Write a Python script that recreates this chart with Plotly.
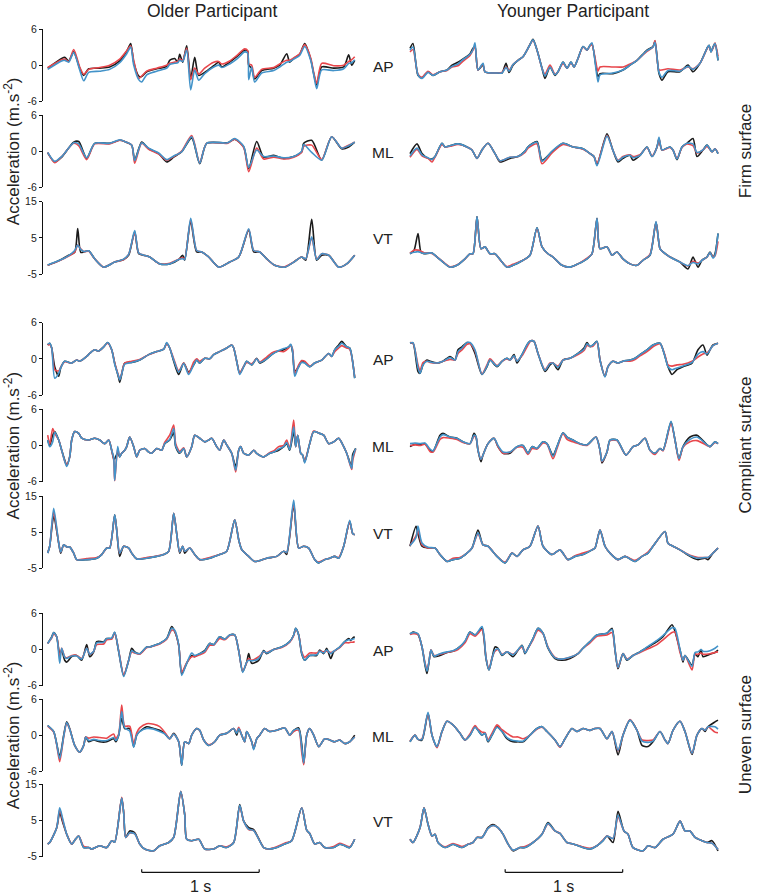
import plotly.graph_objects as go

# ---------------- data ----------------
# Time stamps are sample indices; SAMPLES_PER_SECOND converts them to seconds.
SAMPLES_PER_SECOND = 117.5

# ===== Older participant, Firm surface =====
OF_AP_T = [0,14,17,21,26,32,36,41,52,62,72,79,83,86,91,94,99,109,119,122,127,130,132,135,139,143,147,151,157,166,171,174,182,189,197,200,201,204,207,214,226,232,239,242,246,252,257,263,266,269,274,286,296,301,304,307]
OF_AP_K = [-0.5,1.1,1.3,0.7,2.2,-0.5,-1.7,-0.6,-0.5,-0.3,0.7,2.3,3.6,0.5,-1.8,-1.9,-1.1,-0.6,-0.2,0.8,1.1,0.5,1.8,0.5,3.2,-2.2,1.3,-1.7,-1.2,-0.1,0.5,-0.3,0.5,1.4,2.5,2.3,0.0,-0.5,-2.3,-0.9,-0.5,0.0,1.9,0.5,1.1,1.8,3.6,1.0,-1.4,-3.3,-0.3,-0.5,-0.3,1.7,0.0,0.8]
OF_AP_R = [-0.4,0.9,1.0,0.6,2.6,-0.3,-1.5,-0.7,-0.4,0.0,1.0,2.4,3.2,0.8,-2.2,-1.8,-1.0,-0.5,0.0,0.3,0.5,0.6,1.0,0.8,2.8,-2.4,-0.5,-1.5,-0.5,0.5,0.6,0.2,0.7,1.6,2.7,2.4,0.2,0.0,-2.0,-0.7,-0.4,0.2,0.8,0.8,1.2,1.9,3.4,1.2,-1.2,-3.0,0.3,-0.1,0.0,0.6,0.9,1.4]
OF_AP_B = [-0.7,0.7,0.8,0.5,2.1,-0.8,-2.6,-1.2,-1.0,-0.7,0.4,1.9,3.0,0.0,-2.4,-2.8,-1.6,-1.0,-0.5,0.1,0.3,0.4,0.8,0.6,2.5,-4.1,-0.8,-2.5,-1.4,-0.3,0.0,-0.4,0.2,1.0,2.2,2.0,-2.4,-0.3,-2.8,-1.3,-0.9,-0.3,0.5,0.6,1.0,1.6,3.1,0.8,-1.6,-3.9,-0.8,-0.9,-0.6,0.3,0.4,0.9]

OF_ML_T = [0,7,14,26,31,39,47,62,72,77,84,87,94,101,111,119,126,134,144,152,159,180,187,196,201,209,216,226,236,246,254,256,264,274,284,294,301,307]
OF_ML_K = [-0.3,-1.8,-1.0,1.5,1.6,-1.2,1.3,1.3,1.8,1.6,1.0,-1.5,1.5,0.4,-0.4,-1.8,-1.0,-0.1,2.2,-2.1,1.3,1.4,2.0,0.7,-2.9,1.6,-1.0,-0.7,-1.2,-0.9,-0.1,1.3,1.8,-1.5,2.4,0.4,0.7,1.5]
OF_ML_R = [-0.2,-1.9,-0.9,1.3,0.9,-1.4,1.2,1.2,1.8,1.6,1.0,-2.0,1.3,0.3,-0.5,-1.5,-0.9,0.0,2.6,-1.9,1.3,1.3,2.0,0.6,-3.4,0.5,-1.3,-1.0,-1.3,-1.0,-0.2,0.8,1.0,-1.4,2.4,0.5,1.0,1.5]
OF_ML_B = [-0.2,-1.7,-0.9,1.4,1.2,-1.1,1.3,1.3,1.9,1.6,1.0,-1.6,1.4,0.5,-0.3,-1.4,-0.8,-0.1,2.4,-2.0,1.3,1.4,2.1,0.8,-2.7,0.2,-0.9,-0.8,-1.1,-0.9,0.0,1.1,-0.2,-1.5,2.4,0.5,0.9,1.5]

OF_VT_T = [0,12,21,27,30,33,36,41,47,56,67,76,81,87,91,96,102,112,122,131,135,137,143,149,154,161,171,182,191,201,206,212,219,227,237,246,254,258,264,269,274,281,291,299,307]
OF_VT_K = [-2.6,-1.2,0.2,1.0,7.6,1.0,1.1,1.4,-0.8,-3.1,-1.7,-1.0,0.2,6.7,0.6,0.2,-0.3,-2.2,-2.2,-1.0,0.2,-1.2,9.5,1.1,1.1,-0.3,-3.1,-1.7,-0.3,7.1,1.1,1.1,-0.8,-2.6,-3.1,-1.7,-0.3,-1.2,10.1,-1.2,0.2,0.2,-3.1,-2.2,0.2]
OF_VT_R = [-2.6,-1.3,0.0,1.0,3.0,2.0,1.2,1.3,-0.8,-3.1,-1.7,-1.0,0.5,6.5,0.8,0.2,-0.3,-2.2,-2.0,-0.9,-0.5,-0.8,10.0,1.5,1.1,-0.3,-3.1,-1.7,-0.3,7.3,1.5,1.1,-0.8,-2.6,-3.0,-1.7,-0.3,-0.8,5.0,-0.9,0.6,0.2,-3.1,-2.2,0.2]
OF_VT_B = [-2.5,-1.2,0.1,1.5,3.0,1.8,1.2,1.4,-0.8,-3.1,-1.7,-0.9,0.5,7.0,0.8,0.2,-0.3,-2.2,-2.2,-1.0,-0.8,-1.0,10.4,1.5,1.1,-0.3,-3.1,-1.7,-0.3,7.5,1.5,1.1,-0.8,-2.6,-3.1,-1.7,-0.3,-0.8,5.3,-1.0,0.6,0.2,-3.1,-2.2,0.2]

# ===== Younger participant, Firm surface =====
YF_AP_T = [0,3,8,12,18,23,30,37,42,48,52,60,63,65,68,73,75,87,92,96,99,103,108,113,119,123,127,132,135,140,145,148,153,157,161,164,168,173,177,180,182,188,190,203,213,220,227,237,243,245,249,252,258,270,278,283,290,297,299,301,303,305,308]
YF_AP_K = [2.8,3.6,-1.7,-2.1,-1.1,-1.7,-1.1,-0.8,0.0,0.5,0.9,1.9,2.8,3.1,-0.8,0.0,-1.1,-1.3,-1.3,0.3,-1.2,0.0,0.8,1.4,3.1,4.3,2.5,-0.5,-2.2,-0.3,-1.7,-1.1,0.5,-0.5,0.5,-0.3,1.1,3.1,2.5,3.3,3.5,-1.9,-1.4,-1.4,-0.8,0.0,0.8,2.5,3.1,4.0,-1.4,-2.5,-1.1,-1.1,0.0,-1.1,0.3,2.8,3.3,2.2,3.0,3.6,0.8]
YF_AP_R = [2.2,2.6,-1.5,-2.0,-1.0,-1.6,-1.1,-0.9,-0.3,-0.1,0.5,1.6,2.5,3.2,-0.8,0.2,-1.1,-1.3,-1.2,-0.3,-0.9,0.1,0.8,1.4,3.1,4.1,2.5,-0.5,-1.5,0.0,-1.5,-1.1,0.3,-0.5,0.4,-0.3,1.1,3.0,2.5,3.2,3.4,-1.0,-0.3,-0.3,-0.3,0.2,0.8,2.3,3.0,4.1,-0.8,-0.8,-0.6,-0.8,-0.3,-0.6,0.3,2.7,3.2,2.3,2.8,3.7,1.5]
YF_AP_B = [2.5,3.0,-1.6,-2.2,-1.2,-1.7,-1.1,-0.8,-0.2,0.2,0.8,1.8,2.6,3.7,-0.8,0.3,-1.1,-1.3,-1.3,-0.4,-1.0,0.1,0.8,1.4,3.1,4.2,2.5,-0.5,-1.8,-0.3,-1.6,-1.1,0.5,-0.5,0.5,-0.3,1.1,3.1,2.5,3.3,3.7,-2.8,-1.6,-1.3,-0.8,0.0,0.8,2.4,3.0,3.8,-1.2,-2.0,-0.9,-1.0,-0.2,-0.7,0.3,2.8,3.3,2.2,3.0,3.6,0.8]

YF_ML_T = [0,7,12,18,22,25,32,35,40,48,57,62,67,72,78,85,90,100,108,115,118,127,132,142,153,163,173,180,184,187,197,203,208,213,220,223,230,237,242,247,249,252,260,263,267,272,277,283,287,293,297,302,305,308]
YF_ML_K = [-0.4,1.2,-0.4,-1.2,-1.3,-0.9,1.3,0.7,0.9,1.2,0.7,0.2,-1.2,0.2,1.3,-0.4,-1.8,-1.2,-0.9,0.0,0.7,1.6,-1.5,-0.1,1.3,0.7,0.4,-0.4,-0.9,-2.2,2.9,0.1,-1.8,-1.2,-0.7,-1.5,-0.7,0.7,-0.9,0.7,2.0,0.2,0.7,0.2,-1.4,0.7,1.3,2.1,-0.9,0.2,1.0,-0.1,0.4,-0.4]
YF_ML_R = [-1.0,0.3,-0.8,-1.2,-1.8,-1.0,1.1,0.7,0.8,1.1,0.7,0.2,-1.2,0.2,1.3,-0.4,-1.6,-1.0,-0.9,-0.2,0.5,1.2,-2.1,-0.3,1.1,0.7,0.3,-0.4,-0.9,-2.0,2.6,0.1,-1.5,-0.9,-0.6,-0.9,-0.6,0.6,-0.8,0.6,2.1,0.2,0.6,0.2,-1.2,0.6,1.2,0.9,-0.3,0.2,0.8,-0.1,0.4,-0.3]
YF_ML_B = [-0.8,0.5,-0.6,-1.1,-1.4,-0.9,1.3,0.7,0.9,1.2,0.7,0.2,-1.2,0.2,1.3,-0.4,-1.6,-1.0,-0.9,0.0,0.7,1.5,-1.7,0.0,1.3,0.7,0.4,-0.4,-0.9,-2.4,2.5,0.1,-1.6,-1.0,-0.7,-1.1,-0.7,0.7,-0.9,0.7,2.3,0.2,0.7,0.2,-1.3,0.7,1.3,1.2,-0.2,0.2,1.0,-0.1,0.4,-0.4]

YF_VT_T = [0,4,8,11,14,22,27,33,40,47,55,60,63,67,71,75,80,85,92,97,103,113,120,127,132,138,143,152,160,168,177,182,187,190,197,202,207,213,220,227,233,240,246,250,253,260,270,278,283,288,292,297,300,303,305,308]
YF_VT_K = [0.6,1.5,6.2,1.0,0.6,0.8,-0.3,-1.7,-3.1,-2.6,-0.8,0.6,0.6,10.9,2.0,2.5,0.6,0.6,-1.7,-3.1,-2.6,-1.2,0.2,7.8,2.5,0.6,-0.3,-2.6,-3.1,-2.2,-0.8,0.6,10.4,2.0,2.5,0.2,1.1,-0.8,-2.2,-2.6,-1.2,0.2,9.3,2.0,1.1,-0.3,-1.7,-3.6,-0.3,-3.1,-1.2,-0.3,1.1,-0.3,0.6,6.2]
YF_VT_R = [0.8,1.6,1.6,1.3,0.9,0.7,-0.3,-1.6,-3.0,-2.5,-0.8,0.6,0.6,10.7,2.0,2.5,0.6,0.6,-1.7,-3.0,-2.3,-1.2,0.2,7.6,2.5,0.6,-0.3,-2.6,-3.1,-2.2,-0.6,0.6,10.2,2.0,2.5,0.2,1.1,-0.8,-2.2,-2.6,-1.2,0.4,9.3,2.0,1.1,-0.3,-1.7,-2.8,-1.5,-2.0,-1.2,-0.3,0.8,-0.2,0.0,4.0]
YF_VT_B = [0.7,1.0,1.2,0.9,0.7,0.8,-0.3,-1.7,-3.1,-2.6,-0.8,0.6,0.6,10.9,2.0,2.5,0.6,0.6,-1.7,-3.1,-2.6,-1.2,0.2,7.8,2.5,0.6,-0.3,-2.6,-3.1,-2.2,-0.8,0.6,10.4,2.0,2.5,0.2,1.1,-0.8,-2.2,-2.6,-1.2,0.2,9.5,2.0,1.1,-0.3,-1.7,-2.7,-1.8,-2.2,-1.2,-0.3,0.9,-0.6,0.2,6.2]

# ===== Older participant, Compliant surface =====
OC_AP_T = [0,2,4,7,11,13,17,24,29,32,39,42,47,51,56,60,64,67,71,72,74,77,84,92,101,109,116,119,122,126,131,136,141,146,149,152,157,162,166,172,179,184,186,189,192,196,199,204,209,212,219,224,229,236,241,243,245,247,251,254,257,262,267,274,281,284,287,291,294,299,302,307]
OC_AP_K = [2.3,2.6,1.8,-1.3,-2.9,-1.5,-0.4,-0.7,-0.2,-0.4,0.4,0.9,1.5,1.3,2.0,2.7,1.5,-0.7,-3.2,-3.9,-2.6,-0.7,-0.6,-0.2,0.7,1.2,1.6,2.6,1.8,-0.4,-2.6,-0.7,-2.2,-1.0,-0.2,-0.7,0.1,0.0,0.7,1.2,1.8,2.3,1.8,-0.4,-2.4,-1.3,-0.4,-1.0,0.1,-0.7,0.0,0.7,1.2,1.5,2.0,2.3,1.0,-2.0,-1.3,-0.3,-0.6,-1.3,-0.7,-0.2,0.9,0.4,1.5,2.3,2.9,2.0,1.8,-3.2]
OC_AP_R = [2.3,2.4,1.8,-1.8,-2.0,-1.4,-0.5,-0.7,-0.2,-0.4,0.4,0.9,1.5,1.3,2.0,2.6,1.5,-0.7,-2.9,-3.4,-2.4,-0.7,-0.4,-0.1,0.7,1.2,1.6,2.5,1.8,0.0,-2.0,-0.7,-2.4,-0.5,0.0,-0.4,0.1,0.0,0.7,1.2,1.8,2.3,1.8,-0.4,-2.4,-1.2,-0.6,-0.8,0.0,-0.5,0.3,1.0,1.3,1.2,1.8,2.3,1.5,-2.5,-1.0,-0.3,-0.4,-1.2,-0.7,-0.2,0.9,0.4,1.2,1.8,2.2,1.8,1.6,-3.0]
OC_AP_B = [2.4,2.6,1.8,-3.2,-2.4,-1.5,-0.4,-0.7,-0.2,-0.4,0.4,0.9,1.5,1.3,2.0,2.7,1.5,-0.9,-3.0,-3.5,-2.5,-0.9,-0.6,-0.2,0.7,1.2,1.6,2.7,1.8,-0.2,-2.2,-0.8,-2.6,-1.0,-0.2,-0.7,0.1,0.0,0.7,1.2,1.8,2.3,1.8,-0.4,-2.6,-1.3,-0.4,-1.0,0.0,-0.6,0.0,0.7,1.2,1.7,2.0,2.4,1.2,-2.9,-1.3,-0.6,-0.7,-1.3,-0.7,-0.2,0.9,0.4,1.5,2.1,2.6,2.0,1.8,-3.2]

OC_ML_T = [0,2,5,7,11,14,17,19,22,24,27,31,34,41,47,52,57,61,64,66,67,70,72,74,77,79,82,86,89,92,97,101,104,109,114,117,122,126,128,132,136,139,144,147,152,157,161,164,169,172,176,179,184,188,191,193,196,201,206,209,216,222,226,231,236,239,242,246,248,250,253,255,257,262,266,272,276,281,286,291,296,299,304,305,308]
OC_ML_K = [0.9,0.0,1.7,2.3,0.9,-0.8,-2.4,-3.3,-1.9,0.9,2.3,2.0,1.2,0.9,1.2,0.9,0.3,0.9,-0.8,-2.2,-2.2,-1.2,-1.9,-1.3,-0.8,-0.2,1.4,-0.2,-1.9,-0.8,-0.5,-1.1,-1.3,-0.5,-0.8,0.3,0.9,2.1,-0.2,-1.3,-0.5,-1.9,-0.2,1.7,1.2,0.6,0.9,1.2,-0.2,-0.8,0.9,0.1,-1.3,-3.5,-0.8,-0.2,-1.3,-1.6,-0.8,-1.3,-1.9,-1.3,-1.1,-0.8,-0.2,0.3,-0.8,2.3,-0.2,1.7,-1.3,-1.6,-2.7,0.3,2.3,2.0,1.7,0.3,0.6,1.2,-0.2,-1.3,-3.5,-1.5,-0.5]
OC_ML_R = [1.7,0.2,2.8,2.0,0.9,-0.8,-2.6,-3.2,-1.9,0.9,2.3,2.0,1.2,0.9,1.2,0.9,0.3,0.9,-0.8,-2.4,-5.9,-0.5,-1.8,-1.3,-0.8,-0.2,1.4,-0.2,-1.9,-0.8,-0.5,-1.1,-1.3,-0.5,-0.8,0.5,1.7,3.4,0.3,-1.0,-0.4,-1.9,-0.2,1.7,1.2,0.6,0.9,1.2,-0.2,-0.8,0.9,0.1,-1.3,-4.4,-0.8,-0.2,-1.3,-1.6,-0.8,-1.3,-1.9,-1.2,-0.9,-0.2,0.0,0.9,-0.5,4.2,-0.2,1.7,-1.3,-1.6,-2.7,0.3,2.4,2.0,1.7,0.3,0.6,1.2,-0.2,-1.3,-4.0,-2.5,-0.6]
OC_ML_B = [0.9,-0.2,0.6,2.2,0.9,-0.8,-2.6,-3.5,-1.9,0.9,2.3,2.0,1.2,0.9,1.2,0.9,0.3,0.9,-0.8,-2.0,-5.8,-0.2,-1.9,-1.3,-0.8,-0.2,1.4,-0.2,-1.9,-0.8,-0.5,-1.1,-1.3,-0.5,-0.8,0.3,1.0,2.8,-0.1,-1.2,-0.5,-1.9,-0.2,1.7,1.2,0.6,0.9,1.2,-0.2,-0.8,0.9,0.1,-1.3,-4.1,-0.8,-0.2,-1.3,-1.6,-0.8,-1.3,-1.9,-1.3,-1.1,-0.6,-0.2,0.5,-0.7,3.1,-0.2,1.7,-1.3,-1.6,-2.9,0.3,2.3,2.0,1.7,0.3,0.6,1.2,-0.2,-1.3,-3.8,-2.0,-0.5]

OC_VT_T = [0,2,6,11,13,16,19,22,26,29,39,49,54,59,62,67,69,72,76,81,84,89,99,109,116,121,126,129,132,135,137,142,147,152,162,172,179,187,191,194,201,207,219,229,236,239,246,251,256,261,267,271,277,282,287,291,296,302,305,307]
OC_VT_K = [-0.8,1.1,9.3,2.0,-0.8,1.5,0.9,0.9,-0.8,-2.6,-2.6,-2.2,-1.2,0.6,0.6,9.8,5.6,-1.7,1.1,0.6,-0.8,-2.4,-2.2,-1.7,-1.2,-0.3,10.2,4.6,-0.8,1.1,-0.8,0.6,-1.2,-2.6,-2.2,-1.2,-0.3,8.4,2.9,0.2,-1.7,-3.1,-2.2,-1.7,-0.3,-1.2,12.5,0.6,1.1,0.6,-2.6,-3.5,-2.6,-2.2,-1.7,-2.2,1.1,7.9,4.6,4.3]
OC_VT_R = [-0.8,1.1,10.6,2.0,-0.5,1.5,0.9,0.9,-0.8,-2.6,-2.3,-2.0,-1.2,0.6,0.6,9.6,5.6,-0.8,1.1,0.6,-0.8,-2.4,-2.0,-1.6,-1.2,-0.3,10.2,4.6,-0.5,1.1,-0.3,0.6,-1.2,-2.6,-2.0,-1.2,-0.3,8.4,2.9,0.2,-1.7,-3.1,-2.2,-1.7,-0.3,-0.6,13.0,0.6,1.1,0.6,-2.6,-3.3,-2.6,-2.2,-1.7,-2.0,1.1,7.9,4.6,4.3]
OC_VT_B = [-0.8,1.1,11.6,2.0,-0.5,1.5,0.9,0.9,-0.8,-2.6,-2.6,-2.2,-1.2,0.6,0.6,9.8,5.6,-0.8,1.1,0.6,-0.8,-2.4,-2.2,-1.7,-1.2,-0.3,10.2,4.6,-0.5,1.1,-0.3,0.6,-1.2,-2.6,-2.2,-1.2,-0.3,8.4,2.9,0.2,-1.7,-3.1,-2.2,-1.7,-0.3,-0.6,13.9,0.6,1.1,0.6,-2.6,-3.5,-2.6,-2.2,-1.7,-2.2,1.1,8.3,4.6,4.3]

# ===== Younger participant, Compliant surface =====
YC_AP_T = [0,3,8,10,13,17,20,27,33,40,45,48,52,57,60,65,72,77,80,87,92,97,100,104,107,112,118,121,124,128,135,140,143,148,153,160,168,174,177,180,183,187,190,195,198,203,208,213,220,225,230,237,243,250,255,258,262,267,273,282,288,293,297,300,303,308]
YC_AP_K = [2.6,2.6,-2.1,-2.4,-1.0,-0.2,-0.4,-0.7,-0.4,0.4,-0.2,1.5,2.0,2.7,2.6,0.9,-2.6,-1.3,-0.2,-1.3,-0.4,0.1,-0.2,0.7,-0.7,0.7,2.6,3.0,2.9,0.9,-2.1,-1.0,-0.7,-1.8,-0.2,0.1,0.9,1.8,2.7,2.0,2.3,2.9,-0.2,-2.9,-1.3,-0.4,-0.7,-0.4,-0.2,0.1,0.7,1.5,2.3,2.6,0.4,-1.3,-2.6,-1.8,-1.3,-0.7,1.5,2.3,0.6,1.5,2.3,2.6]
YC_AP_R = [2.7,2.6,-1.0,-2.0,-0.6,-0.4,-0.6,-0.7,-0.4,-0.1,-0.2,0.9,1.5,2.4,2.5,1.3,-2.5,-1.0,0.0,-1.1,-0.4,0.0,-0.2,0.4,-0.3,0.5,2.3,3.0,2.9,0.9,-1.8,-0.7,-0.7,-1.2,-0.2,0.1,0.7,1.4,2.2,2.1,2.1,2.8,-0.2,-2.9,-1.3,-0.4,-0.7,-0.4,-0.4,-0.1,0.5,1.2,2.0,2.5,0.6,-1.0,-1.2,-1.0,-0.9,-0.4,0.3,0.8,1.0,1.5,2.2,2.6]
YC_AP_B = [2.6,2.7,-1.5,-2.4,-1.0,-0.4,-0.5,-0.7,-0.4,0.2,-0.2,1.2,1.8,2.7,2.7,1.5,-2.6,-1.2,-0.2,-1.2,-0.4,0.1,-0.2,0.5,-0.4,0.7,2.6,3.0,2.9,0.9,-1.9,-0.8,-0.7,-1.4,-0.2,0.1,0.9,1.6,2.5,2.1,2.3,2.9,-0.2,-3.0,-1.3,-0.4,-0.7,-0.4,-0.2,0.1,0.7,1.5,2.3,2.6,0.4,-1.3,-1.8,-1.5,-1.2,-0.6,0.8,1.2,0.8,1.5,2.2,2.6]

YC_ML_T = [0,5,10,15,20,23,30,33,40,47,53,60,64,66,68,71,73,78,84,88,93,100,107,113,118,122,127,133,137,143,147,153,157,163,170,177,186,190,192,197,200,207,216,223,228,235,240,245,250,253,261,265,269,273,280,287,297,300,305,308]
YC_ML_K = [-0.2,0.2,0.1,0.3,-0.8,-1.0,1.7,2.0,1.4,1.2,0.6,0.3,2.0,1.4,-0.8,-2.7,-1.6,0.3,1.2,-0.2,-1.3,-1.3,-0.2,0.0,-1.3,-0.2,-0.5,0.6,0.3,-1.6,-0.2,2.1,1.4,0.9,0.3,0.1,1.4,-0.8,-2.9,-1.1,0.9,0.9,-1.6,-0.2,0.1,1.2,-0.8,-1.3,-0.5,-0.8,3.9,0.9,-2.2,-0.2,1.4,1.7,0.1,-0.2,0.6,0.3]
YC_ML_R = [0.0,0.1,0.0,0.2,-1.0,-1.1,1.0,1.3,1.2,1.0,0.5,0.3,1.5,1.4,-0.8,-2.3,-1.6,0.3,1.2,-0.2,-1.3,-1.1,-0.3,-0.3,-1.5,-0.5,-0.6,0.4,0.2,-2.2,-0.5,2.0,1.0,0.6,0.2,0.0,1.4,-0.8,-2.7,-1.1,0.8,0.8,-1.6,-0.2,0.1,1.2,-0.8,-1.5,-0.5,-0.9,3.6,0.9,-2.5,-0.3,0.6,0.8,0.0,-0.2,0.5,0.3]
YC_ML_B = [0.3,0.4,0.3,0.4,-0.6,-0.9,1.4,1.8,1.4,1.2,0.6,0.3,1.7,1.5,-0.8,-2.3,-1.6,0.3,1.2,0.0,-1.1,-1.1,-0.2,0.0,-1.3,-0.2,-0.5,0.6,0.3,-1.8,-0.2,2.1,1.4,0.9,0.3,0.1,1.4,-0.8,-2.6,-1.1,0.9,0.9,-1.6,-0.2,0.1,1.2,-0.8,-1.3,-0.5,-0.8,4.0,0.9,-2.2,-0.2,1.0,1.4,0.1,-0.2,0.6,0.3]

YC_VT_T = [0,6,8,12,18,25,30,37,43,50,57,62,68,73,78,87,95,102,107,113,120,128,133,142,150,158,165,173,182,185,190,195,200,208,215,225,232,238,243,255,258,263,270,280,288,295,298,303,308]
YC_VT_K = [1.1,6.6,4.5,1.1,0.6,0.6,-1.2,-3.1,-2.6,-2.2,-0.8,0.6,5.6,1.5,1.1,-1.7,-3.5,-0.8,-1.7,0.1,1.1,6.7,1.1,-1.2,0.1,-2.6,-1.7,-1.2,0.1,0.6,5.6,1.1,-0.8,-2.6,-1.7,-3.1,-1.7,-0.8,1.1,5.2,1.9,1.1,0.1,-1.7,-2.6,-2.2,-2.6,-0.8,0.6]
YC_VT_R = [1.3,4.0,5.5,1.5,0.6,0.6,-1.2,-3.1,-2.2,-2.0,-0.8,0.6,4.5,1.5,1.1,-1.7,-3.3,-0.8,-1.7,0.1,1.1,6.7,1.1,-1.2,0.1,-2.6,-1.5,-0.8,0.1,0.6,5.6,1.1,-0.8,-2.6,-1.7,-2.8,-1.7,-0.5,1.1,5.2,1.9,1.1,0.1,-1.4,-2.0,-2.0,-2.0,-0.8,0.6]
YC_VT_B = [1.3,3.5,6.7,2.0,0.8,0.6,-1.2,-3.1,-2.6,-2.2,-0.8,0.6,4.8,1.5,1.1,-1.7,-3.5,-0.8,-1.7,0.1,1.1,6.7,1.1,-1.2,0.1,-2.6,-1.7,-1.2,0.1,0.6,5.6,1.1,-0.8,-2.6,-1.7,-3.1,-1.7,-0.8,1.1,5.2,1.9,1.1,0.1,-1.5,-2.2,-2.0,-2.0,-0.8,0.6]

# ===== Older participant, Uneven surface =====
OU_AP_T = [0,4,6,9,12,14,17,19,24,29,34,39,42,46,49,56,59,64,67,71,76,81,84,87,92,99,102,107,112,119,124,127,131,134,139,144,147,152,157,162,166,172,177,182,187,191,195,199,201,204,211,216,219,226,234,242,246,248,251,254,257,262,269,272,276,279,283,286,292,297,301,303,305,307]
OU_AP_K = [1.0,2.1,2.8,2.1,-0.7,-0.2,-1.8,-2.1,-1.2,-1.0,-1.8,0.8,-1.2,-0.4,1.3,1.3,1.8,1.8,2.8,-0.4,-4.3,-1.8,0.2,-0.4,-0.7,0.4,0.4,0.7,1.0,1.8,3.8,3.0,0.7,-4.0,-2.3,-1.0,-1.2,-0.7,-0.2,1.0,0.8,2.1,1.7,2.4,2.4,-0.2,-3.7,-2.1,-0.7,-2.3,-1.8,-0.2,-0.7,0.0,0.4,1.3,2.4,3.5,2.4,-0.7,-1.8,-1.0,-1.0,-0.1,-0.7,0.2,-1.5,-0.4,0.4,1.3,1.8,1.5,1.9,2.1]
OU_AP_R = [1.0,1.9,2.6,2.1,-1.3,0.2,-1.2,-1.4,-1.0,-1.0,-1.5,0.2,-0.8,-0.3,0.8,0.9,1.6,1.7,2.8,-0.2,-4.2,-1.8,-0.4,-0.6,-0.8,0.3,0.4,0.6,0.9,1.7,3.2,3.0,0.7,-3.8,-2.2,-1.2,-1.2,-0.9,-0.5,0.7,0.7,1.8,1.6,2.3,2.4,-0.2,-3.6,-2.2,-1.5,-1.8,-1.2,-0.4,-0.5,0.0,0.3,1.2,2.3,3.4,2.4,-0.4,-1.3,-0.6,-0.6,-0.3,-0.4,-0.3,-0.5,-0.3,0.3,1.1,1.1,1.2,1.2,1.3]
OU_AP_B = [1.0,2.0,2.8,2.1,-2.3,0.2,-1.3,-1.5,-1.1,-1.1,-1.6,0.2,-0.8,-0.3,1.1,1.2,1.8,1.9,2.9,-0.3,-4.5,-1.8,-0.2,-0.5,-0.7,0.4,0.4,0.7,1.0,1.8,3.5,3.2,0.8,-4.3,-2.3,-0.6,-1.0,-0.7,-0.3,1.0,0.8,2.1,1.7,2.4,2.4,-0.2,-3.8,-2.1,-1.8,-1.9,-1.5,-0.3,-0.6,0.0,0.4,1.3,2.4,3.5,2.4,-0.6,-1.8,-1.0,-0.9,-0.3,-0.6,-0.1,-0.7,-0.3,0.4,1.3,1.6,1.6,1.7,1.8]

OU_ML_T = [0,6,9,12,16,19,22,27,32,36,38,41,46,52,59,66,68,71,74,77,82,86,89,92,99,106,112,117,122,126,131,134,137,141,144,149,152,156,161,167,172,179,186,189,191,194,197,199,204,206,209,212,217,222,229,237,242,246,251,254,256,259,262,266,271,277,282,287,292,297,302,307]
OU_ML_K = [1.6,0.6,-1.4,-3.6,0.0,2.2,1.1,-1.7,-2.8,-1.7,-0.3,-1.1,-0.8,-1.1,-1.1,-0.6,-1.1,0.0,2.8,1.1,1.1,-1.9,0.0,0.6,1.4,1.1,0.8,0.3,-0.6,0.3,-1.1,-5.0,-1.1,-1.4,0.0,1.1,0.8,-0.8,-1.7,-1.1,0.0,0.3,1.1,0.0,1.1,0.0,-1.1,0.6,-1.1,-2.2,-0.6,0.0,1.1,0.6,0.8,1.2,0.0,0.8,1.2,-1.5,-4.7,0.0,1.1,0.0,-1.9,-0.6,-0.8,-1.1,-0.8,-1.4,-1.1,0.0]
OU_ML_R = [1.5,0.5,-1.6,-4.4,-0.3,2.0,1.0,-1.7,-2.8,-1.7,-0.3,-0.5,-0.3,-0.4,-0.5,0.2,-0.6,0.2,5.0,1.5,1.5,-1.5,0.4,1.2,1.9,1.8,1.4,0.5,-0.6,0.2,-1.1,-4.8,-1.1,-1.4,0.0,1.1,0.8,-0.8,-1.6,-1.1,0.0,0.3,1.1,0.5,1.3,0.0,-1.1,0.6,-1.1,-2.2,-0.6,0.0,1.1,0.6,0.8,1.2,0.0,0.6,0.8,-2.8,-4.9,0.0,1.1,0.0,-1.9,-0.6,-0.8,-1.1,-0.8,-1.4,-1.1,-0.3]
OU_ML_B = [1.6,0.6,-1.5,-3.9,-0.2,2.1,1.0,-1.7,-2.8,-1.7,-0.3,-0.9,-0.7,-0.9,-0.9,-0.4,-0.9,0.0,3.9,1.2,0.7,-2.0,0.0,0.6,1.1,1.0,0.6,0.2,-0.6,0.2,-1.1,-5.0,-1.1,-1.4,0.0,1.1,0.8,-0.8,-1.7,-1.1,0.0,0.3,1.1,0.3,1.1,0.0,-1.1,0.6,-1.1,-2.4,-0.6,0.0,1.1,0.6,0.8,1.2,0.0,0.8,1.0,-2.0,-4.6,0.0,1.1,0.0,-1.9,-0.6,-0.8,-1.1,-0.8,-1.4,-1.1,-0.3]

OU_VT_T = [0,2,9,12,15,19,24,28,31,36,41,44,52,59,64,67,74,76,78,82,87,92,97,106,112,121,126,133,137,139,144,151,157,166,172,179,186,192,196,201,206,216,221,229,237,244,254,259,262,267,272,277,286,292,297,302,307]
OU_VT_K = [-1.5,-1.1,3.0,7.1,4.5,1.2,-1.5,-0.1,0.7,-2.5,-2.5,-2.9,-2.0,-2.5,-0.6,-1.0,11.2,7.1,0.3,2.1,1.6,-1.5,-2.9,-3.4,-2.0,-1.1,0.3,13.0,6.6,-0.2,-0.6,-0.2,-2.9,-2.9,-2.0,-2.5,-1.1,9.4,4.8,3.0,2.5,-2.5,-2.9,-2.5,-1.5,-0.6,8.5,2.3,1.4,-1.5,-1.1,-2.5,-2.5,-1.6,-2.0,-2.5,-0.2]
OU_VT_R = [-1.5,-1.1,3.0,8.0,5.0,1.2,-1.5,-0.1,0.7,-2.2,-2.5,-2.9,-2.0,-2.5,-0.6,-1.0,11.4,7.1,0.3,1.5,1.3,-1.5,-2.9,-3.4,-2.0,-1.1,0.3,13.0,6.6,-0.2,-0.6,-0.2,-2.9,-2.9,-2.0,-2.3,-1.1,9.0,4.8,2.5,2.2,-2.5,-2.9,-2.3,-1.3,-0.6,8.5,2.3,1.4,-1.5,-1.1,-2.5,-2.2,-1.3,-1.8,-2.3,-0.2]
OU_VT_B = [-1.5,-1.1,3.0,8.5,5.5,1.2,-1.5,-0.1,0.7,-2.5,-2.5,-2.9,-2.0,-2.5,-0.6,-1.0,11.2,7.1,0.3,1.6,1.3,-1.5,-2.9,-3.4,-2.0,-1.1,0.3,13.0,6.6,-0.2,-0.6,-0.2,-2.9,-2.9,-2.0,-2.5,-1.1,9.2,4.8,2.6,2.2,-2.5,-2.9,-2.5,-1.5,-0.6,8.5,2.3,1.4,-1.5,-1.1,-2.5,-2.5,-1.6,-2.0,-2.5,-0.2]

# ===== Younger participant, Uneven surface =====
YU_AP_T = [0,3,8,12,15,17,19,21,24,30,37,43,48,55,60,65,72,74,76,79,82,85,88,92,97,103,112,115,118,123,128,133,138,145,152,160,168,173,180,187,197,202,205,208,213,217,223,230,238,247,253,262,265,270,273,275,282,285,288,291,293,300,305,308]
YU_AP_K = [2.5,2.9,2.5,0.4,-2.6,-4.0,-2.1,-0.1,-1.2,-1.0,-0.5,-0.3,0.2,1.3,2.9,2.4,3.5,1.8,-1.5,-3.4,-1.5,0.4,0.2,-1.0,-0.4,-1.2,0.7,-0.7,0.2,1.8,3.5,2.7,0.2,-1.5,-1.8,-1.5,-0.7,0.2,1.3,2.4,2.7,3.5,-0.1,-3.2,-0.7,-1.8,-1.0,-0.4,0.4,1.3,2.1,4.1,3.0,-0.1,-2.1,-1.0,-2.6,-0.7,-1.2,0.0,-1.2,-0.8,-0.5,-0.1]
YU_AP_R = [2.5,2.6,2.5,0.4,-2.2,-3.4,-2.0,-0.1,-1.0,-0.8,-0.5,-0.3,0.0,1.1,2.6,2.2,3.3,2.0,-1.3,-3.3,-1.4,-0.3,0.0,-0.8,-0.4,-0.8,0.4,-0.5,0.2,1.6,3.2,2.6,0.4,-1.3,-1.6,-1.3,-0.7,0.2,1.1,2.2,2.4,2.8,0.0,-3.0,-0.7,-1.6,-1.0,-0.5,0.1,0.8,1.6,2.8,2.9,-0.5,-1.8,-1.0,-3.4,-0.8,-0.8,-0.6,-0.8,-0.7,-0.5,-0.4]
YU_AP_B = [2.6,2.8,2.6,0.4,-2.4,-3.6,-2.0,-0.1,-1.1,-0.7,-0.4,-0.2,0.2,1.4,2.9,2.4,3.8,2.3,-1.4,-3.4,-1.5,-0.1,0.1,-0.9,-0.4,-0.9,0.6,-0.6,0.2,1.8,3.5,2.7,0.3,-1.4,-1.6,-1.3,-0.7,0.2,1.3,2.4,2.7,3.3,0.0,-3.0,-0.7,-1.7,-1.0,-0.4,0.5,1.5,2.3,3.6,3.5,0.0,-1.8,-1.0,-2.8,-0.5,-0.4,0.0,-0.3,-0.2,0.2,0.6]

YU_ML_T = [0,5,8,12,18,22,27,32,37,43,50,55,60,65,68,72,75,78,82,87,92,97,103,108,113,120,127,132,137,145,150,155,162,167,173,180,185,190,197,202,208,213,220,227,232,238,243,250,255,258,263,270,275,282,287,292,295,298,305,308]
YU_ML_K = [-1.1,0.0,-0.7,-0.8,3.6,0.0,-1.9,0.6,2.3,1.7,0.3,-0.8,0.0,1.4,0.8,0.0,0.3,-1.1,0.0,1.4,0.6,-0.6,-1.1,-1.1,-1.1,0.0,1.1,1.4,0.6,-0.8,-1.9,-0.6,1.1,0.6,1.1,0.8,1.1,1.1,-0.6,0.6,-3.3,0.0,2.5,0.8,-1.7,-1.9,-1.1,0.6,-0.8,-1.4,0.8,2.3,0.6,-3.2,0.0,1.1,0.6,1.4,2.2,2.5]
YU_ML_R = [-1.0,0.0,-0.7,-0.6,3.6,0.0,-2.1,0.6,2.3,1.7,0.3,-0.8,0.2,1.6,1.0,0.5,0.4,-0.8,0.3,1.7,0.9,0.3,-0.3,-0.3,-0.6,0.0,1.0,1.3,0.6,-0.8,-2.0,-0.6,1.1,0.6,1.1,0.8,1.1,1.1,-0.6,0.6,-2.6,0.0,2.6,0.8,-0.8,-0.9,-0.8,0.6,-0.8,-1.4,0.8,2.3,0.6,-3.0,0.0,1.1,0.8,1.4,0.5,0.4]
YU_ML_B = [-1.1,0.0,-0.7,-0.7,3.8,0.0,-1.9,0.6,2.3,1.7,0.3,-0.8,0.0,1.3,0.8,0.0,0.3,-1.0,0.0,1.3,0.6,-0.4,-0.9,-1.0,-1.0,0.0,1.1,1.4,0.6,-0.8,-1.9,-0.6,1.1,0.6,1.1,0.8,1.1,1.1,-0.6,0.6,-2.5,0.0,2.5,0.8,-1.0,-1.2,-1.0,0.6,-0.8,-1.4,0.8,2.3,0.6,-3.0,0.0,1.1,0.8,1.4,1.4,1.0]

YU_VT_T = [0,3,10,14,18,22,25,28,35,43,52,58,63,67,72,78,83,88,93,98,103,110,115,123,132,138,145,150,157,163,173,180,187,193,197,203,208,214,218,223,233,238,245,253,263,270,275,280,285,292,297,302,308]
YU_VT_K = [-0.2,-1.1,3.0,8.5,4.0,0.7,1.2,-1.1,-2.5,-1.6,-2.5,-1.6,-1.1,0.3,0.3,3.0,3.9,3.0,1.2,-1.5,-3.4,-2.5,-2.5,-1.1,1.2,4.4,2.1,1.4,-1.1,-1.5,-2.5,-2.9,-2.0,-0.6,0.7,-1.1,7.5,2.1,1.2,-2.5,-3.4,-2.0,-2.5,-0.2,1.2,4.8,2.1,2.1,0.3,-0.6,-1.1,-0.6,-3.4]
YU_VT_R = [-0.2,-1.1,3.0,8.5,4.0,0.7,1.2,-1.1,-2.3,-1.4,-2.2,-1.6,-1.1,0.3,0.3,2.8,3.6,3.0,1.2,-1.5,-3.2,-2.5,-2.2,-1.1,1.2,4.0,2.1,1.4,-1.1,-1.5,-2.3,-2.7,-2.0,-0.4,0.7,0.0,6.0,2.1,1.2,-2.5,-3.4,-2.0,-2.5,-0.2,1.2,4.8,2.1,2.1,0.3,-0.6,-1.1,-1.3,-3.0]
YU_VT_B = [-0.2,-1.1,3.0,8.5,4.0,0.7,1.2,-1.1,-2.5,-1.6,-2.5,-1.6,-1.1,0.3,0.3,2.8,3.6,3.0,1.2,-1.5,-3.2,-2.5,-2.5,-1.1,1.2,4.2,2.1,1.4,-1.1,-1.5,-2.5,-2.9,-2.0,-0.6,0.7,0.0,6.4,2.1,1.2,-2.5,-3.4,-2.0,-2.5,-0.2,1.2,4.8,2.1,2.1,0.3,-0.6,-1.1,-1.3,-3.0]

PARTICIPANTS = ["Older Participant", "Younger Participant"]
SURFACES = ["Firm surface", "Compliant surface", "Uneven surface"]
DIRECTIONS = ["AP", "ML", "VT"]
Y_RANGES = {"AP": [-6, 6], "ML": [-6, 6], "VT": [-5, 15]}
Y_TICKS = {"AP": [-6, 0, 6], "ML": [-6, 0, 6], "VT": [-5, 5, 15]}
Y_TITLE = "Acceleration (m.s<sup>-2</sup>)"
SCALE_BAR_SECONDS = 1.0
SCALE_BAR_START = [0.80, 0.81]   # seconds, per participant column

DATA = {
    (0, 0, "AP"): (OF_AP_T, OF_AP_K, OF_AP_R, OF_AP_B),
    (0, 0, "ML"): (OF_ML_T, OF_ML_K, OF_ML_R, OF_ML_B),
    (0, 0, "VT"): (OF_VT_T, OF_VT_K, OF_VT_R, OF_VT_B),
    (1, 0, "AP"): (YF_AP_T, YF_AP_K, YF_AP_R, YF_AP_B),
    (1, 0, "ML"): (YF_ML_T, YF_ML_K, YF_ML_R, YF_ML_B),
    (1, 0, "VT"): (YF_VT_T, YF_VT_K, YF_VT_R, YF_VT_B),
    (0, 1, "AP"): (OC_AP_T, OC_AP_K, OC_AP_R, OC_AP_B),
    (0, 1, "ML"): (OC_ML_T, OC_ML_K, OC_ML_R, OC_ML_B),
    (0, 1, "VT"): (OC_VT_T, OC_VT_K, OC_VT_R, OC_VT_B),
    (1, 1, "AP"): (YC_AP_T, YC_AP_K, YC_AP_R, YC_AP_B),
    (1, 1, "ML"): (YC_ML_T, YC_ML_K, YC_ML_R, YC_ML_B),
    (1, 1, "VT"): (YC_VT_T, YC_VT_K, YC_VT_R, YC_VT_B),
    (0, 2, "AP"): (OU_AP_T, OU_AP_K, OU_AP_R, OU_AP_B),
    (0, 2, "ML"): (OU_ML_T, OU_ML_K, OU_ML_R, OU_ML_B),
    (0, 2, "VT"): (OU_VT_T, OU_VT_K, OU_VT_R, OU_VT_B),
    (1, 2, "AP"): (YU_AP_T, YU_AP_K, YU_AP_R, YU_AP_B),
    (1, 2, "ML"): (YU_ML_T, YU_ML_K, YU_ML_R, YU_ML_B),
    (1, 2, "VT"): (YU_VT_T, YU_VT_K, YU_VT_R, YU_VT_B),
}

# ---------------- layout (pixels) ----------------
W, H = 757, 895
FONT = "Arial, 'Liberation Sans', Helvetica, sans-serif"
COL_DATA_START = [47.7, 410.0]     # px where sample 0 sits
AXIS_LEFT_PAD = 4.7                # px between y axis line and first sample
AXIS_RIGHT_PAD = 3.0
PANEL_SPAN = 307.3                 # px from first to last sample
PANEL_TOPS = [[29.0, 115.0, 201.7], [322.7, 409.3, 496.0], [613.3, 699.0, 784.3]]
PANEL_H = 72.3
COLORS = {"K": "#1b1b1b", "R": "#e8474c", "B": "#4393c9"}
LW = 1.6
TEXT_COLOR = "#222"


def px_x(px):
    return px / W


def px_y(py):
    return 1 - py / H


fig = go.Figure()
layout_axes = {}
ax_index = 0
axis_names = {}
for g in range(3):
    for r, d in enumerate(DIRECTIONS):
        for c in range(2):
            ax_index += 1
            xn = "x" if ax_index == 1 else f"x{ax_index}"
            yn = "y" if ax_index == 1 else f"y{ax_index}"
            axis_names[(c, g, d)] = (xn, yn)
            x0 = COL_DATA_START[c] - AXIS_LEFT_PAD
            x1 = COL_DATA_START[c] + PANEL_SPAN + AXIS_RIGHT_PAD
            top = PANEL_TOPS[g][r]
            bot = top + PANEL_H
            xr = [-AXIS_LEFT_PAD / SAMPLES_PER_SECOND,
                  (PANEL_SPAN + AXIS_RIGHT_PAD) / SAMPLES_PER_SECOND]
            layout_axes["xaxis" if ax_index == 1 else f"xaxis{ax_index}"] = dict(
                domain=[px_x(x0), px_x(x1)], range=xr, visible=False,
                anchor=yn, fixedrange=True)
            yax = dict(domain=[px_y(bot), px_y(top)], range=Y_RANGES[d],
                       anchor=xn, showgrid=False, zeroline=False, fixedrange=True)
            if c == 0:
                yax.update(showline=True, linecolor="#111", linewidth=1.3,
                           ticks="outside", ticklen=3, tickwidth=1.2, tickcolor="#111",
                           tickvals=Y_TICKS[d], ticktext=[str(v) for v in Y_TICKS[d]],
                           tickfont=dict(family=FONT, size=10.5, color=TEXT_COLOR))
            else:
                yax.update(visible=False)
            layout_axes["yaxis" if ax_index == 1 else f"yaxis{ax_index}"] = yax

            T, K, R, B = DATA[(c, g, d)]
            assert len(T) == len(K) == len(R) == len(B), (c, g, d, len(T), len(K), len(R), len(B))
            t = [i / SAMPLES_PER_SECOND for i in T]
            for key, vals in (("K", K), ("R", R), ("B", B)):
                fig.add_trace(go.Scatter(
                    x=t, y=vals, mode="lines", xaxis=xn, yaxis=yn,
                    line=dict(color=COLORS[key], width=LW, shape="spline", smoothing=0.7),
                    showlegend=False, hoverinfo="skip"))

annotations = []
# column titles
TITLE_X = [212, 573]
for c, name in enumerate(PARTICIPANTS):
    annotations.append(dict(text=name, x=px_x(TITLE_X[c]), y=px_y(11),
                            xref="paper", yref="paper", showarrow=False,
                            font=dict(family=FONT, size=17.5, color=TEXT_COLOR),
                            xanchor="center", yanchor="middle"))
# direction labels between columns
for g in range(3):
    for r, d in enumerate(DIRECTIONS):
        top = PANEL_TOPS[g][r]
        ref_level = 0 if d != "VT" else 5
        frac = (Y_RANGES[d][1] - ref_level) / (Y_RANGES[d][1] - Y_RANGES[d][0])
        yc = top + PANEL_H * frac
        annotations.append(dict(text=d, x=px_x(383), y=px_y(yc + 1),
                                xref="paper", yref="paper", showarrow=False,
                                font=dict(family=FONT, size=15.5, color=TEXT_COLOR),
                                xanchor="center", yanchor="middle"))
    mid = PANEL_TOPS[g][1] + PANEL_H / 2
    # surface labels on the right
    annotations.append(dict(text=SURFACES[g], x=px_x(745), y=px_y(mid),
                            xref="paper", yref="paper", showarrow=False, textangle=-90,
                            font=dict(family=FONT, size=17, color=TEXT_COLOR),
                            xanchor="center", yanchor="middle"))
    # y-axis title on the left
    annotations.append(dict(text=Y_TITLE, x=px_x(12), y=px_y(mid),
                            xref="paper", yref="paper", showarrow=False, textangle=-90,
                            font=dict(family=FONT, size=17, color=TEXT_COLOR),
                            xanchor="center", yanchor="middle"))

# scale bars (1 s) under bottom panels
shapes = []
bar_y = 872.3
for c in range(2):
    xn, yn = axis_names[(c, 2, "VT")]
    s0 = SCALE_BAR_START[c]
    s1 = s0 + SCALE_BAR_SECONDS
    shapes.append(dict(type="line", xref=xn, yref="paper", x0=s0, x1=s1,
                       y0=px_y(bar_y), y1=px_y(bar_y), line=dict(color="#111", width=1.3)))
    for s in (s0, s1):
        shapes.append(dict(type="line", xref=xn, yref="paper", x0=s, x1=s,
                           y0=px_y(bar_y), y1=px_y(bar_y - 3), line=dict(color="#111", width=1.2)))
    annotations.append(dict(text="1 s", x=(s0 + s1) / 2, y=px_y(886), xref=xn, yref="paper",
                            showarrow=False, font=dict(family=FONT, size=16, color=TEXT_COLOR),
                            xanchor="center", yanchor="middle"))

fig.update_layout(
    width=W, height=H, margin=dict(l=0, r=0, t=0, b=0, pad=0, autoexpand=False),
    paper_bgcolor="white", plot_bgcolor="rgba(0,0,0,0)",
    showlegend=False, annotations=annotations, shapes=shapes,
    **layout_axes)

fig.write_html(
    "out.html",
    config={"displayModeBar": False},
    post_script="document.body.style.margin='0';document.body.style.padding='0';"
                "document.body.style.overflow='hidden';",
)
